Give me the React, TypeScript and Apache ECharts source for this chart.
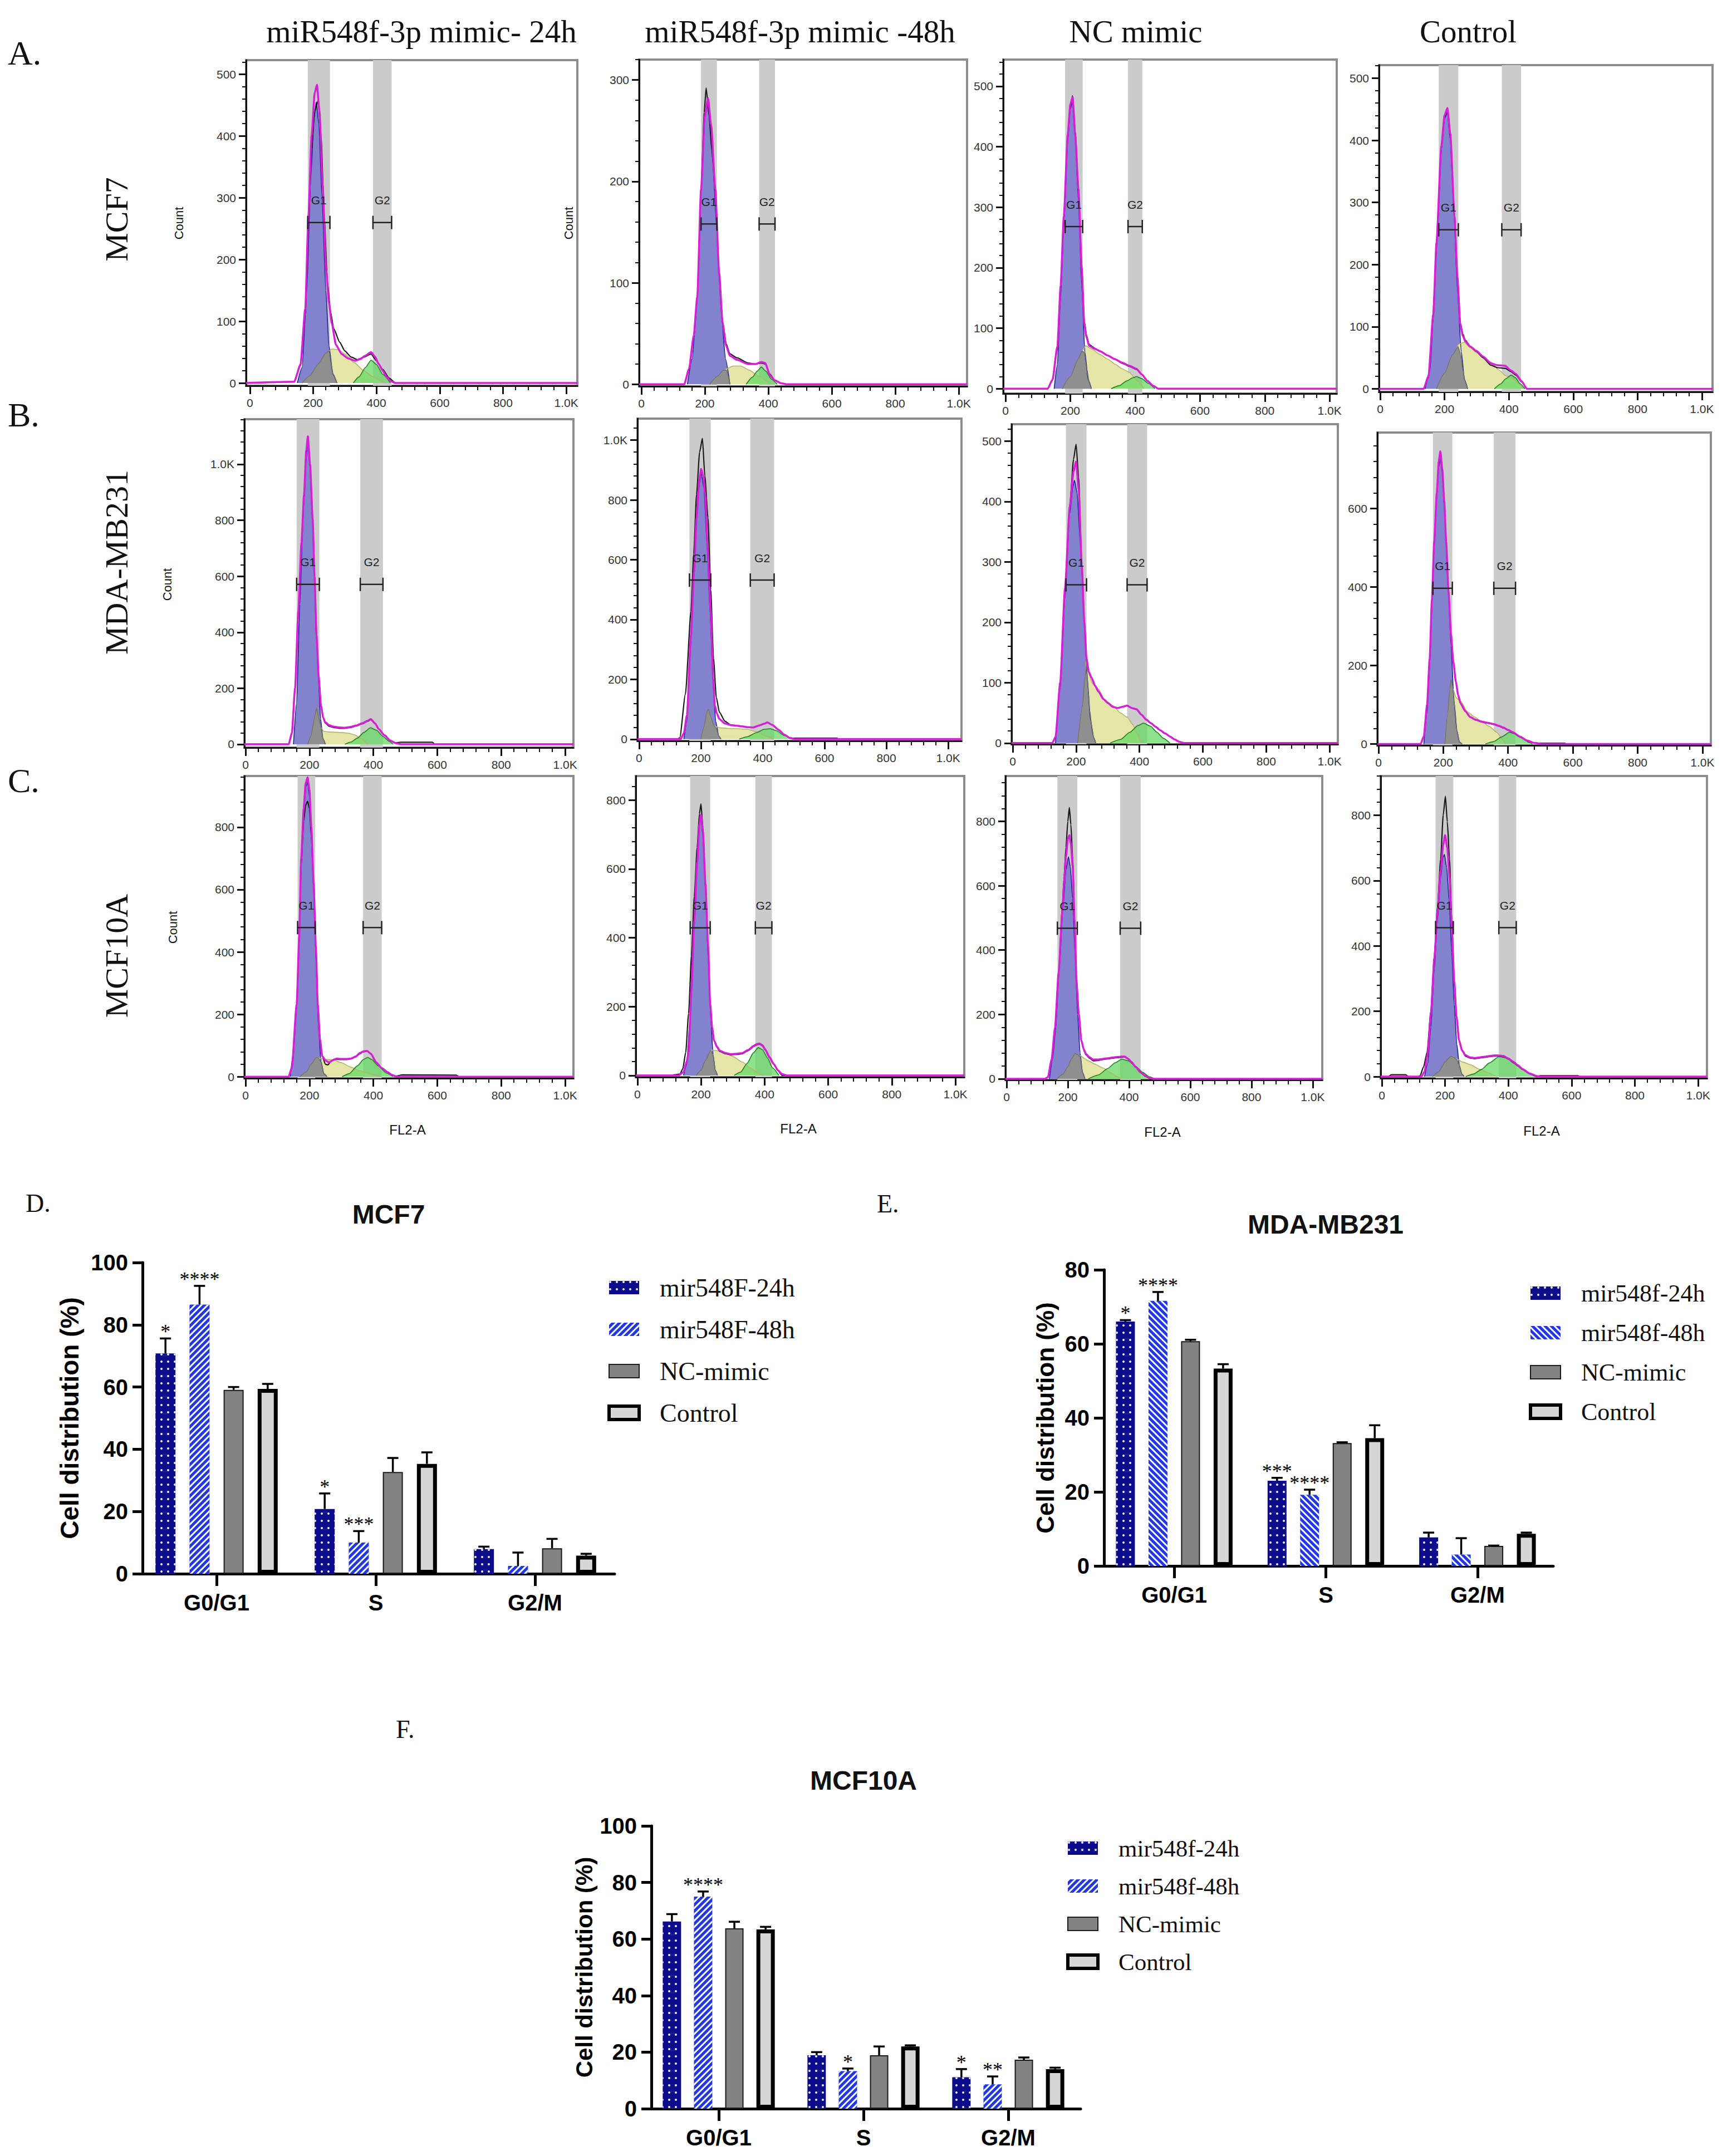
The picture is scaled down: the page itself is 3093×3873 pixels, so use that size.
import { useEffect, useRef } from "react";
import * as echarts from "echarts";

const PAGE_W = 3093;
const PAGE_H = 3873;

// ---------- flow histograms (rows A-C x columns) ----------
const columnTitles = ["miR548f-3p mimic- 24h", "miR548f-3p mimic -48h", "NC mimic", "Control"];
const rowLabels = ["MCF7", "MDA-MB231", "MCF10A"];
const rowLetters = ["A.", "B.", "C."];

// panel order: A1 A2 A3 A4 B1 B2 B3 B4 C1 C2 C3 C4
const yMins = [-4.5, -2, -8, -5, -12, -6, -2, -3.4, -5, -5, -3.5, -5];
const yMaxes = [523, 320, 544, 521, 1161, 1072, 528, 794, 964, 870, 941, 920];
const ySteps = [100, 100, 100, 100, 200, 200, 100, 200, 200, 200, 200, 200];
const xMins = [-12, -7, -7, -3.5, -3.5, -5, -3.5, -3.4, -3.5, -5, -3.6, -3.5];
const xMaxes = [1035, 1026, 1022, 1033, 1026, 1043, 1026, 1026, 1026, 1028, 1031, 1028];
const xMajor = [0, 200, 400, 600, 800, 1000];
const xMinor = [40, 80, 120, 160, 240, 280, 320, 360, 440, 480, 520, 560, 640, 680, 720, 760, 840, 880, 920, 960];

const g1Gates = [[183, 253], [188, 238], [184, 238], [182, 243], [160, 231], [163, 232], [168, 233], [168, 228], [163, 218], [166, 229], [166, 231], [170, 226]];
const g2Gates = [[389, 448], [371, 421], [378, 422], [378, 438], [359, 430], [360, 437], [361, 424], [356, 423], [368, 426], [371, 423], [371, 438], [370, 425]];
const gateLevels = [260, 158, 268, 256, 571, 532, 262, 397, 478, 429, 468, 456];

// model fit (magenta)
const fitCurves = [
  [[-12,0],[140,2],[160,30],[175,120],[185,270],[195,400],[205,470],[212,483],[220,440],[230,320],[241,183],[250,130],[259,96],[272,62],[290,47],[310,40],[333,36],[350,39],[364,44],[383,50],[395,43],[407,31],[420,20],[432,10],[445,3],[460,0],[1035,0]],
  [[-7,0],[135,0],[150,15],[165,48],[176,86],[188,192],[200,265],[210,282],[220,255],[233,192],[245,110],[256,60],[267,38],[279,28],[302,24],[336,20],[360,20],[378,22],[390,21],[405,9],[420,4],[440,1],[460,0],[1026,0]],
  [[-7,0],[130,0],[145,15],[160,70],[170,170],[180,286],[192,420],[200,470],[207,482],[215,420],[225,330],[235,200],[243,107],[250,85],[258,71],[275,66],[292,62],[315,55],[337,49],[360,43],[382,38],[404,33],[420,24],[438,13],[455,5],[472,0],[1022,0]],
  [[-4,0],[135,0],[150,20],[165,120],[175,235],[190,390],[200,440],[209,452],[218,410],[231,278],[240,180],[249,104],[257,85],[265,76],[280,68],[299,61],[320,52],[344,41],[365,38],[389,37],[405,30],[422,24],[440,12],[456,0],[1033,0]],
  [[-4,0],[135,0],[145,40],[155,200],[165,473],[175,720],[183,891],[190,1050],[195,1100],[202,1000],[210,807],[216,600],[222,389],[229,240],[236,138],[243,95],[249,79],[262,68],[275,63],[293,60],[311,59],[330,62],[346,67],[365,75],[382,84],[392,90],[405,75],[417,54],[435,32],[453,13],[470,4],[488,0],[1026,0]],
  [[-5,0],[135,0],[145,20],[155,80],[168,348],[178,560],[186,740],[195,870],[201,904],[208,880],[214,818],[223,620],[232,427],[240,200],[245,114],[252,85],[260,67],[278,52],[296,47],[315,45],[333,43],[350,40],[369,39],[390,46],[406,52],[415,56],[430,48],[452,31],[470,15],[488,4],[505,0],[1043,0]],
  [[-4,0],[125,0],[135,10],[150,101],[165,256],[180,392],[192,450],[200,466],[208,420],[218,295],[226,200],[233,140],[240,118],[248,109],[260,95],[271,85],[286,73],[301,66],[316,60],[331,58],[346,60],[361,62],[376,58],[391,56],[406,47],[421,39],[436,33],[451,27],[466,21],[481,16],[496,11],[511,6],[526,2],[541,0],[1026,0]],
  [[-3,0],[130,0],[140,20],[150,100],[158,218],[165,370],[172,516],[180,640],[186,720],[191,746],[197,700],[203,620],[209,516],[216,390],[224,278],[231,210],[239,158],[246,125],[253,104],[268,84],[283,69],[300,62],[320,57],[338,54],[356,51],[370,47],[386,42],[400,36],[415,30],[437,19],[459,9],[480,3],[504,0],[1026,0]],
  [[-4,0],[135,0],[145,30],[160,232],[168,450],[174,697],[182,860],[188,940],[194,960],[200,920],[206,800],[213,620],[220,420],[226,232],[233,120],[240,66],[250,52],[261,46],[272,52],[284,58],[300,57],[315,57],[329,58],[345,65],[358,76],[368,81],[380,83],[392,74],[409,46],[426,28],[444,15],[458,6],[471,0],[1026,0]],
  [[-5,0],[130,0],[145,10],[155,40],[161,67],[170,250],[179,450],[188,620],[195,730],[200,758],[206,710],[214,558],[222,380],[229,207],[235,140],[241,102],[250,84],[259,72],[277,65],[295,62],[312,63],[330,65],[348,74],[366,86],[375,91],[384,93],[393,88],[402,76],[415,54],[429,33],[442,15],[455,4],[470,0],[1028,0]],
  [[-4,0],[125,0],[135,5],[147,60],[158,157],[170,330],[182,520],[188,610],[194,690],[200,745],[205,757],[210,730],[216,660],[222,490],[228,307],[236,200],[244,120],[252,92],[259,78],[271,67],[283,60],[298,60],[314,62],[330,64],[345,66],[361,68],[376,69],[386,69],[396,63],[407,53],[422,37],[438,20],[453,9],[469,2],[480,0],[1031,0]],
  [[-4,0],[125,0],[135,15],[145,70],[155,190],[166,360],[176,505],[186,630],[194,710],[200,739],[207,700],[214,610],[221,460],[229,290],[236,185],[244,111],[254,80],[264,66],[279,59],[294,57],[309,59],[324,61],[339,63],[354,65],[370,65],[385,63],[400,56],[415,46],[430,35],[445,23],[467,10],[490,2],[505,0],[1028,0]],
];

// measured events (black)
const dataCurves = [
  [[-12,0],[140,2],[160,28],[175,110],[185,250],[195,380],[205,440],[216,458],[225,400],[235,270],[245,165],[255,115],[265,88],[284,66],[300,52],[320,42],[340,38],[360,42],[383,47],[400,36],[420,22],[440,8],[460,0],[1035,0]],
  [[-7,0],[135,0],[150,14],[165,46],[176,84],[188,190],[198,268],[204,292],[212,270],[222,232],[233,188],[245,108],[256,62],[267,40],[279,30],[302,26],[336,21],[360,20],[378,21],[390,20],[405,10],[420,4],[440,1],[460,0],[1026,0]],
  [[-7,0],[130,0],[145,14],[160,66],[170,165],[180,280],[192,415],[200,468],[207,484],[215,425],[225,330],[235,205],[243,112],[250,88],[258,73],[275,67],[292,62],[315,55],[337,49],[360,42],[382,37],[404,32],[420,24],[438,13],[455,5],[472,0],[1022,0]],
  [[-4,0],[135,0],[150,18],[165,115],[175,230],[190,385],[200,438],[209,450],[218,408],[231,275],[240,178],[249,106],[257,88],[265,78],[280,68],[299,60],[320,50],[344,38],[365,34],[389,33],[405,28],[422,22],[440,11],[456,0],[1033,0]],
  [[-4,0],[135,0],[145,38],[155,195],[165,465],[175,710],[183,880],[190,1040],[195,1090],[202,990],[210,800],[216,600],[222,389],[229,240],[236,138],[243,95],[249,76],[262,64],[275,60],[293,57],[311,57],[330,60],[346,65],[365,73],[382,82],[392,88],[405,74],[417,54],[435,32],[453,13],[470,5],[485,7],[585,7],[592,0],[1026,0]],
  [[-5,0],[125,0],[132,5],[150,150],[168,427],[177,620],[186,818],[196,960],[205,1006],[213,880],[223,740],[232,500],[241,270],[250,140],[260,90],[278,60],[296,48],[315,45],[333,43],[350,40],[369,39],[390,46],[406,52],[415,56],[430,48],[452,31],[470,15],[488,4],[500,3],[640,3],[648,0],[1043,0]],
  [[-4,0],[125,0],[135,10],[150,101],[165,256],[180,392],[192,470],[200,495],[208,440],[218,295],[226,200],[233,140],[240,118],[248,109],[260,95],[271,85],[286,73],[301,66],[316,60],[331,58],[346,60],[361,62],[376,58],[391,56],[406,47],[421,39],[436,33],[451,27],[466,21],[481,16],[496,11],[511,6],[526,2],[541,0],[1026,0]],
  [[-3,0],[130,0],[140,20],[150,100],[158,218],[165,370],[172,516],[180,640],[186,720],[191,746],[197,700],[203,620],[209,516],[216,390],[224,278],[231,210],[239,158],[246,125],[253,104],[268,84],[283,69],[300,62],[320,56],[338,53],[356,50],[370,46],[386,41],[400,35],[415,29],[437,18],[459,8],[480,3],[504,2],[575,2],[580,0],[1026,0]],
  [[-4,0],[135,0],[145,28],[160,225],[168,440],[174,680],[182,820],[188,870],[194,883],[200,860],[206,770],[213,610],[220,410],[226,232],[233,120],[240,66],[250,40],[258,38],[266,48],[276,56],[300,55],[315,55],[329,57],[345,64],[358,74],[368,80],[380,82],[392,73],[409,46],[426,28],[444,15],[458,6],[471,2],[490,6],[660,5],[668,0],[1026,0]],
  [[-5,0],[110,0],[116,2],[134,4],[143,20],[152,67],[161,180],[170,347],[179,520],[188,663],[195,760],[200,789],[206,720],[214,558],[222,380],[229,207],[235,140],[241,102],[250,82],[259,70],[277,63],[295,60],[312,61],[330,63],[348,72],[366,84],[375,89],[384,91],[393,86],[402,74],[415,52],[429,32],[442,14],[455,0],[1028,0]],
  [[-4,0],[125,0],[135,5],[147,60],[158,157],[170,330],[182,532],[188,630],[194,720],[200,800],[205,843],[210,790],[216,682],[222,500],[228,307],[236,200],[244,120],[252,90],[259,75],[271,64],[283,56],[298,57],[314,60],[330,62],[345,64],[361,66],[376,67],[386,68],[396,62],[407,52],[422,36],[438,19],[453,8],[469,0],[1031,0]],
  [[-4,0],[20,0],[30,6],[75,6],[85,0],[115,0],[121,3],[132,30],[143,74],[155,200],[166,370],[176,520],[186,665],[194,800],[201,858],[207,780],[214,665],[221,480],[229,296],[236,190],[244,111],[254,80],[264,63],[279,57],[294,55],[309,57],[324,59],[339,61],[354,63],[370,63],[385,61],[400,54],[415,44],[430,33],[445,22],[467,9],[490,0],[500,3],[620,3],[626,0],[1028,0]],
];

// G0/G1 component (blue)
const g1Curves = [
  [[150,0],[165,25],[180,150],[192,330],[203,430],[210,455],[218,420],[228,300],[240,150],[250,60],[262,15],[275,0]],
  [[145,0],[160,25],[176,84],[188,188],[198,258],[206,278],[214,264],[225,220],[238,150],[252,70],[265,25],[279,0]],
  [[150,0],[160,40],[170,150],[180,275],[192,410],[200,462],[207,475],[215,415],[225,310],[235,170],[245,60],[255,15],[265,0]],
  [[140,0],[155,30],[170,170],[180,290],[192,400],[200,435],[209,445],[218,400],[228,300],[240,160],[252,60],[262,15],[272,0]],
  [[150,0],[160,150],[170,500],[180,820],[188,1000],[195,1080],[203,980],[212,760],[220,470],[228,230],[235,90],[242,20],[250,0]],
  [[145,0],[155,60],[168,330],[180,620],[190,820],[201,890],[210,840],[220,650],[230,420],[240,180],[248,60],[258,10],[265,0]],
  [[135,0],[150,90],[165,240],[180,380],[190,425],[195,435],[203,415],[215,320],[225,210],[235,110],[245,40],[255,10],[262,0]],
  [[140,0],[150,80],[158,200],[165,350],[172,500],[180,630],[186,705],[191,730],[197,690],[205,580],[214,420],[224,250],[233,110],[242,35],[250,5],[258,0]],
  [[140,0],[150,80],[160,225],[168,440],[175,700],[183,860],[189,930],[194,945],[200,900],[207,770],[214,580],[221,360],[228,160],[236,50],[245,10],[255,0]],
  [[145,0],[155,30],[165,160],[175,400],[185,600],[193,720],[200,747],[207,690],[215,520],[223,330],[231,160],[238,60],[245,15],[252,0]],
  [[140,0],[150,60],[160,150],[172,340],[184,530],[194,650],[202,690],[208,660],[216,560],[224,380],[232,200],[240,80],[248,20],[256,0]],
  [[135,0],[145,40],[155,150],[166,330],[176,480],[186,610],[193,670],[198,680],[205,640],[213,540],[221,380],[229,220],[237,100],[245,35],[253,8],[260,0]],
];

// S phase (yellow)
const sCurves = [
  [[165,0],[190,12],[215,30],[240,48],[260,55],[280,54],[300,47],[330,33],[360,20],[390,10],[415,3],[432,0]],
  [[215,0],[240,8],[265,15],[290,18],[313,18],[340,14],[370,8],[405,0]],
  [[175,0],[200,20],[225,50],[240,65],[247,71],[265,66],[290,57],[315,49],[340,40],[360,33],[382,27],[405,14],[427,0]],
  [[175,0],[200,25],[225,55],[245,72],[261,75],[280,66],[300,58],[320,50],[344,43],[370,30],[390,21],[411,17],[430,8],[445,0]],
  [[195,0],[205,30],[215,90],[222,130],[228,100],[236,60],[245,46],[260,44],[280,43],[300,42],[320,40],[340,34],[360,22],[382,0]],
  [[200,0],[210,40],[218,85],[224,102],[232,75],[242,45],[260,38],[290,36],[320,35],[350,33],[380,25],[410,10],[433,0]],
  [[205,0],[220,60],[228,110],[233,140],[240,115],[250,100],[260,94],[271,89],[290,72],[316,62],[340,50],[361,43],[380,30],[391,16],[406,0]],
  [[205,0],[214,80],[220,140],[224,164],[230,140],[240,118],[253,110],[275,82],[297,69],[320,56],[342,45],[365,30],[386,9],[392,0]],
  [[170,0],[190,15],[205,40],[222,62],[240,58],[260,55],[275,54],[300,45],[329,31],[355,20],[382,12],[405,5],[420,0]],
  [[185,0],[200,15],[215,45],[232,74],[250,72],[277,67],[300,55],[330,39],[355,22],[384,4],[395,0]],
  [[165,0],[185,15],[200,38],[212,62],[224,79],[240,72],[255,63],[267,56],[290,45],[314,34],[340,19],[360,7],[375,0]],
  [[160,0],[180,15],[200,45],[219,63],[235,55],[255,45],[279,37],[310,22],[339,11],[355,4],[366,0]],
];

// overlap of G1 and S (grey)
const overlapCurves = [
  [[165,0],[190,12],[215,30],[240,48],[250,52],[257,30],[264,12],[275,0]],
  [[215,0],[240,8],[260,14],[268,14],[274,8],[279,0]],
  [[175,0],[200,20],[225,50],[237,62],[243,60],[250,35],[258,12],[265,0]],
  [[175,0],[200,25],[225,55],[242,68],[250,55],[257,30],[264,12],[272,0]],
  [[195,0],[205,30],[215,90],[222,130],[228,100],[236,60],[242,20],[250,0]],
  [[200,0],[210,40],[218,85],[224,102],[232,75],[242,45],[250,36],[258,10],[265,0]],
  [[205,0],[220,60],[228,110],[233,130],[238,89],[243,54],[250,25],[256,8],[262,0]],
  [[205,0],[214,80],[220,140],[224,164],[230,140],[236,90],[242,35],[250,5],[258,0]],
  [[170,0],[190,15],[205,40],[222,62],[228,60],[236,48],[245,10],[255,0]],
  [[185,0],[200,15],[215,45],[231,73],[238,60],[245,15],[252,0]],
  [[165,0],[185,15],[200,38],[212,62],[224,79],[232,75],[240,70],[248,20],[256,0]],
  [[160,0],[180,15],[200,45],[219,63],[229,58],[237,52],[245,35],[253,8],[260,0]],
];

// G2/M component (green)
const g2Curves = [
  [[327,0],[345,10],[365,25],[383,37],[400,30],[420,14],[444,0]],
  [[330,0],[350,7],[365,13],[378,17],[392,13],[410,5],[428,0]],
  [[326,0],[350,5],[375,13],[392,18],[404,20],[420,17],[440,9],[461,0]],
  [[355,0],[375,8],[390,16],[407,22],[420,18],[435,8],[450,0]],
  [[311,0],[330,8],[350,22],[370,42],[391,59],[410,50],[430,28],[450,10],[462,0]],
  [[324,0],[350,8],[380,22],[405,33],[424,35],[445,28],[470,12],[497,0]],
  [[308,0],[340,6],[370,18],[395,29],[413,33],[435,28],[455,18],[475,8],[496,0]],
  [[330,0],[355,6],[380,18],[404,30],[425,25],[445,14],[465,4],[475,0]],
  [[302,0],[325,10],[350,35],[370,56],[382,62],[395,55],[415,35],[440,12],[462,0]],
  [[304,0],[325,10],[345,35],[365,66],[380,81],[393,75],[410,50],[425,22],[445,0]],
  [[267,0],[300,12],[330,32],[355,50],[376,61],[398,56],[420,40],[445,20],[465,7],[484,0]],
  [[265,0],[290,8],[315,22],[340,42],[370,61],[395,58],[420,40],[445,22],[470,8],[492,0]],
];

// ---------- bar charts D / E / F ----------
const phases = ["G0/G1", "S", "G2/M"];
const namesD = ["mir548F-24h", "mir548F-48h", "NC-mimic", "Control"];
const namesEF = ["mir548f-24h", "mir548f-48h", "NC-mimic", "Control"];

const mcf7Mean = [[70.8, 20.8, 7.9], [86.5, 10.0, 2.5], [59.1, 32.7, 8.2], [59.4, 35.3, 5.8]];
const mcf7Sd = [[4.8, 5.0, 0.8], [6.0, 3.7, 4.3], [0.9, 4.5, 3.0], [1.6, 3.7, 0.6]];
const mcf7Stars = [["*", "*", ""], ["****", "***", ""], ["", "", ""], ["", "", ""]];

const mdaMean = [[66.0, 23.0, 7.7], [71.6, 19.2, 3.1], [60.7, 33.2, 5.4], [53.3, 34.5, 8.7]];
const mdaSd = [[0.4, 0.8, 1.3], [2.4, 1.4, 4.4], [0.4, 0.2, 0.1], [1.2, 3.5, 0.3]];
const mdaStars = [["*", "***", ""], ["****", "****", ""], ["", "", ""], ["", "", ""]];

const mcf10Mean = [[66.2, 18.9, 11.1], [75.0, 13.3, 8.6], [63.8, 18.9, 17.3], [63.4, 22.0, 14.0]];
const mcf10Sd = [[2.6, 1.1, 2.9], [1.8, 0.9, 2.8], [2.3, 3.1, 0.8], [0.9, 0.4, 0.5]];
const mcf10Stars = [["", "", "*"], ["****", "*", "**"], ["", "", ""], ["", "", ""]];

const panelBoxes = [
  [442, 108, 1037, 693], [1148, 107, 1737, 694], [1802, 107, 2401, 707], [2477, 117, 3076, 704],
  [439, 753, 1030, 1343], [1145, 752, 1727, 1331], [1817, 762, 2403, 1337], [2474, 777, 3073, 1339],
  [439, 1394, 1030, 1937], [1142, 1394, 1732, 1935], [1806, 1394, 2375, 1940], [2480, 1394, 3066, 1937],
];

const SANS = '"Liberation Sans", Arial, sans-serif';
const SERIF = '"Liberation Serif", "Times New Roman", serif';

const kFmt = (v: number) => (v >= 1000 ? (v / 1000).toFixed(1) + "K" : String(v));

const tickList = (step: number, max: number, minor: boolean) => {
  const out: number[] = [];
  const d = minor ? step / 5 : step;
  for (let v = 0; v <= max; v += d) if (!minor || v % step !== 0) out.push(v);
  return out;
};

const dotDecal = { symbol: "circle", symbolSize: 1, dashArrayX: [4, 8], dashArrayY: [4, 9], color: "#e6e6ff" };
const stripeUp = { symbol: "rect", symbolSize: 1, dashArrayX: [1, 0], dashArrayY: [3, 5], rotation: -Math.PI / 4, color: "#ffffff" };
const stripeDown = { ...stripeUp, rotation: Math.PI / 4 };

const style24 = { color: "#0c0c8a", decal: dotDecal };
const style48Up = { color: "#2136e6", decal: stripeUp };
const style48Down = { color: "#2136e6", decal: stripeDown };
const styleNC = { color: "#838383", borderColor: "#1a1a1a", borderWidth: 2 };
const styleCtrl = { color: "#d6d6d6", borderColor: "#000", borderWidth: 7 };

function histParts(i: number) {
  const [l, t, r, b] = panelBoxes[i];
  const grid = {
    left: l, top: t, width: r - l, height: b - t, show: true,
    borderColor: "#8c8c8c", borderWidth: 4, backgroundColor: "#fff", outerBoundsMode: "none",
  };
  const yMajor = tickList(ySteps[i], yMaxes[i], false);
  const yMinor = tickList(ySteps[i], yMaxes[i], true);
  const xAxes = [
    {
      type: "value", gridIndex: i, min: xMins[i], max: xMaxes[i], position: "bottom",
      axisLine: { show: true, onZero: false, lineStyle: { color: "#111", width: 3 } },
      axisTick: { show: true, customValues: xMajor, length: 15, lineStyle: { color: "#111", width: 3 } },
      axisLabel: { show: true, customValues: xMajor, formatter: kFmt, fontSize: 21, fontFamily: SANS, color: "#333", margin: 20 },
      splitLine: { show: false },
    },
    {
      type: "value", gridIndex: i, min: xMins[i], max: xMaxes[i], position: "bottom",
      axisLine: { show: false, onZero: false },
      axisTick: { show: true, customValues: xMinor, length: 8, lineStyle: { color: "#111", width: 2 } },
      axisLabel: { show: false }, splitLine: { show: false },
    },
  ];
  const yAxes = [
    {
      type: "value", gridIndex: i, min: yMins[i], max: yMaxes[i], position: "left",
      axisLine: { show: true, onZero: false, lineStyle: { color: "#111", width: 3 } },
      axisTick: { show: true, customValues: yMajor, length: 13, lineStyle: { color: "#111", width: 3 } },
      axisLabel: { show: true, customValues: yMajor, formatter: kFmt, fontSize: 21, fontFamily: SANS, color: "#333", margin: 18 },
      splitLine: { show: false },
    },
    {
      type: "value", gridIndex: i, min: yMins[i], max: yMaxes[i], position: "left",
      axisLine: { show: false, onZero: false },
      axisTick: { show: true, customValues: yMinor, length: 7, lineStyle: { color: "#111", width: 2 } },
      axisLabel: { show: false }, splitLine: { show: false },
    },
  ];
  const ax = { xAxisIndex: 2 * i, yAxisIndex: 2 * i };
  const gates = [[...g1Gates[i], gateLevels[i]], [...g2Gates[i], gateLevels[i]]];
  const area = (data: number[][], fill: string, stroke: string, z: number) => ({
    type: "line", ...ax, data, smooth: 0.2, smoothMonotone: "x", symbol: "none", silent: true, z,
    lineStyle: { color: stroke, width: 1.6 }, areaStyle: { color: fill, opacity: 1 },
  });
  const curve = (data: number[][], color: string, width: number, z: number) => ({
    type: "line", ...ax, data, smooth: 0.2, smoothMonotone: "x", symbol: "none", silent: true, z,
    lineStyle: { color, width },
  });
  const series = [
    {
      type: "custom", ...ax, z: 1, silent: true, data: gates,
      renderItem: (params: any, api: any) => {
        const cs = params.coordSys;
        const x0 = api.coord([api.value(0), 0])[0];
        const x1 = api.coord([api.value(1), 0])[0];
        return { type: "rect", shape: { x: x0, y: cs.y, width: x1 - x0, height: cs.height }, style: { fill: "#cbcbcb" } };
      },
    },
    area(g1Curves[i], "#8383cd", "#1e1e96", 2),
    area(sCurves[i], "#e5e5a8", "#b4b46a", 2),
    area(overlapCurves[i], "#8f8f8f", "#707070", 2),
    area(g2Curves[i], "rgba(96,216,96,0.72)", "#1f7f1f", 2),
    curve(dataCurves[i], "#1a1a1a", 2.2, 3),
    curve(fitCurves[i], "#d61fd6", 3.5, 4),
    {
      type: "custom", ...ax, z: 5, silent: true, data: gates,
      renderItem: (params: any, api: any) => {
        const p0 = api.coord([api.value(0), api.value(2)]);
        const p1 = api.coord([api.value(1), api.value(2)]);
        const y = p0[1];
        const st = { stroke: "#222", lineWidth: 2.5 };
        return {
          type: "group",
          children: [
            { type: "line", shape: { x1: p0[0], y1: y, x2: p1[0], y2: y }, style: st },
            { type: "line", shape: { x1: p0[0], y1: y - 12, x2: p0[0], y2: y + 12 }, style: st },
            { type: "line", shape: { x1: p1[0], y1: y - 12, x2: p1[0], y2: y + 12 }, style: st },
            {
              type: "text",
              style: {
                text: params.dataIndex === 0 ? "G1" : "G2", x: (p0[0] + p1[0]) / 2, y: y - 40,
                textAlign: "center", textVerticalAlign: "middle", font: `21px ${SANS}`, fill: "#222",
              },
            },
          ],
        };
      },
    },
  ];
  return { grid, xAxes, yAxes, series };
}

type BarSpec = {
  grid: number[]; yMax: number; yOffset: number; nameGap: number; nameSize: number;
  names: string[]; means: number[][]; sds: number[][]; stars: string[][];
  styles: any[]; barWidth: number; barGap: number;
  legendLeft: number; legendTop: number; legendGap: number; legendFont: number;
};

const barSpecs: BarSpec[] = [
  {
    grid: [246, 2268, 858, 559], yMax: 100, yOffset: -10, nameGap: 108, nameSize: 46,
    names: namesD, means: mcf7Mean, sds: mcf7Sd, stars: mcf7Stars,
    styles: [style24, style48Up, styleNC, styleCtrl], barWidth: 36, barGap: 0.7,
    legendLeft: 1086, legendTop: 2283, legendGap: 25, legendFont: 46,
  },
  {
    grid: [1973, 2281, 817, 532], yMax: 80, yOffset: -10, nameGap: 84, nameSize: 44,
    names: namesEF, means: mdaMean, sds: mdaSd, stars: mdaStars,
    styles: [style24, style48Down, styleNC, styleCtrl], barWidth: 34, barGap: 0.72,
    legendLeft: 2741, legendTop: 2293, legendGap: 21, legendFont: 44,
  },
  {
    grid: [1161, 3280, 780, 508], yMax: 100, yOffset: -9, nameGap: 100, nameSize: 42,
    names: namesEF, means: mcf10Mean, sds: mcf10Sd, stars: mcf10Stars,
    styles: [style24, style48Up, styleNC, styleCtrl], barWidth: 33, barGap: 0.7,
    legendLeft: 1910, legendTop: 3290, legendGap: 18, legendFont: 43,
  },
];

function barParts(c: number, spec: BarSpec) {
  const gi = 12 + c;
  const axisIdx = 24 + c;
  const [l, t, w, h] = spec.grid;
  const grid = { left: l, top: t, width: w, height: h, outerBoundsMode: "none" };
  const xAxis = {
    type: "category", gridIndex: gi, data: phases, position: "bottom",
    axisLine: { show: true, onZero: false, lineStyle: { color: "#000", width: 5 } },
    axisTick: { show: true, alignWithLabel: true, length: 22, lineStyle: { color: "#000", width: 5 } },
    axisLabel: { fontSize: 40, fontWeight: "bold", fontFamily: SANS, color: "#000", margin: 32 },
    splitLine: { show: false },
  };
  const yAxis = {
    type: "value", gridIndex: gi, min: 0, max: spec.yMax, interval: 20, offset: spec.yOffset,
    axisLine: { show: true, onZero: false, lineStyle: { color: "#000", width: 5 } },
    axisTick: { show: true, length: 18, lineStyle: { color: "#000", width: 5 } },
    axisLabel: { fontSize: 40, fontWeight: "bold", fontFamily: SANS, color: "#000", margin: 26 },
    splitLine: { show: false },
    name: "Cell distribution (%)", nameLocation: "middle", nameGap: spec.nameGap,
    nameTextStyle: { fontSize: spec.nameSize, fontWeight: "bold", fontFamily: SANS, color: "#000" },
  };
  const pitch = spec.barWidth * (1 + spec.barGap);
  const bars = spec.means.map((vals, k) => ({
    type: "bar", name: spec.names[k], xAxisIndex: axisIdx, yAxisIndex: axisIdx, data: vals,
    barWidth: spec.barWidth, barGap: `${spec.barGap * 100}%`, itemStyle: spec.styles[k], silent: true,
  }));
  const errData: number[][] = [];
  const errStars: string[] = [];
  spec.means.forEach((vals, k) =>
    vals.forEach((v, p) => {
      errData.push([p, k, v, v + spec.sds[k][p]]);
      errStars.push(spec.stars[k][p]);
    })
  );
  const errors = {
    type: "custom", xAxisIndex: axisIdx, yAxisIndex: axisIdx, z: 4, silent: true, data: errData,
    renderItem: (params: any, api: any) => {
      const p = api.value(0);
      const k = api.value(1);
      const b = api.coord([p, api.value(2)]);
      const e = api.coord([p, api.value(3)]);
      const x = b[0] + (k - 1.5) * pitch;
      const st = { stroke: "#000", lineWidth: 3.5 };
      const kids: any[] = [
        { type: "line", shape: { x1: x, y1: b[1], x2: x, y2: e[1] }, style: st },
        { type: "line", shape: { x1: x - 10, y1: e[1], x2: x + 10, y2: e[1] }, style: st },
      ];
      const mark = errStars[params.dataIndex];
      if (mark) {
        kids.push({
          type: "text",
          style: { text: mark, x, y: e[1] - 12, textAlign: "center", textVerticalAlign: "middle", font: `36px ${SERIF}`, fill: "#000" },
        });
      }
      return { type: "group", children: kids };
    },
  };
  const legend = {
    orient: "vertical", left: spec.legendLeft, top: spec.legendTop, itemWidth: 54, itemHeight: 24,
    itemGap: spec.legendGap, icon: "rect", selectedMode: false,
    textStyle: { fontFamily: SERIF, fontSize: spec.legendFont, color: "#111", lineHeight: 50, padding: [0, 0, 0, 32] },
    data: spec.names.map((n, k) => ({
      name: n,
      itemStyle: k === 3 ? { ...spec.styles[k], borderWidth: 6 } : spec.styles[k],
    })),
  };
  return { grid, xAxis, yAxis, series: [...bars, errors], legend };
}

function textEl(text: string, x: number, y: number, font: string, opts: any = {}) {
  return {
    type: "text", x, y, rotation: opts.rotation || 0, silent: true, z: 100,
    style: { text, x: 0, y: 0, textAlign: opts.align || "center", textVerticalAlign: "middle", font, fill: "#111" },
  };
}

function buildOption() {
  const grids: any[] = [];
  const xAxis: any[] = [];
  const yAxis: any[] = [];
  const series: any[] = [];
  const legend: any[] = [];
  for (let i = 0; i < 12; i++) {
    const p = histParts(i);
    grids.push(p.grid);
    xAxis.push(...p.xAxes);
    yAxis.push(...p.yAxes);
    series.push(...p.series);
  }
  barSpecs.forEach((spec, c) => {
    const p = barParts(c, spec);
    grids.push(p.grid);
    xAxis.push(p.xAxis);
    yAxis.push(p.yAxis);
    series.push(...p.series);
    legend.push(p.legend);
  });

  const colCenters = [757, 1437, 2040, 2637];
  const rowLabelY = [394, 1010, 1717];
  const letterY = [95, 745, 1402];
  const graphic: any[] = [];
  columnTitles.forEach((t, k) => graphic.push(textEl(t, colCenters[k], 56, `57px ${SERIF}`)));
  rowLabels.forEach((t, k) => graphic.push(textEl(t, 209, rowLabelY[k], `58px ${SERIF}`, { rotation: Math.PI / 2 })));
  rowLetters.forEach((t, k) => graphic.push(textEl(t, 14, letterY[k], `62px ${SERIF}`, { align: "left" })));
  [[321, 401], [1021, 401], [300, 1050], [310, 1666]].forEach(([x, y]) =>
    graphic.push(textEl("Count", x, y, `22px ${SANS}`, { rotation: Math.PI / 2 }))
  );
  [[732, 2029], [1434, 2027], [2088, 2033], [2769, 2031]].forEach(([x, y]) =>
    graphic.push(textEl("FL2-A", x, y, `24px ${SANS}`))
  );
  graphic.push(textEl("D.", 46, 2161, `46px ${SERIF}`, { align: "left" }));
  graphic.push(textEl("E.", 1575, 2162, `46px ${SERIF}`, { align: "left" }));
  graphic.push(textEl("F.", 711, 3106, `46px ${SERIF}`, { align: "left" }));
  graphic.push(textEl("MCF7", 698, 2181, `bold 48px ${SANS}`));
  graphic.push(textEl("MDA-MB231", 2381, 2199, `bold 48px ${SANS}`));
  graphic.push(textEl("MCF10A", 1551, 3198, `bold 48px ${SANS}`));

  return {
    animation: false,
    backgroundColor: "#ffffff",
    grid: grids,
    xAxis,
    yAxis,
    series,
    legend,
    graphic,
  };
}

export default function App() {
  const ref = useRef<HTMLDivElement | null>(null);

  useEffect(() => {
    if (!ref.current) return;
    const chart = echarts.init(ref.current, undefined, { renderer: "svg" });
    chart.setOption(buildOption() as any);
    return () => chart.dispose();
  }, []);

  return (
    <div
      ref={ref}
      style={{ position: "absolute", left: 0, top: 0, width: PAGE_W, height: PAGE_H, background: "#fff" }}
    />
  );
}
